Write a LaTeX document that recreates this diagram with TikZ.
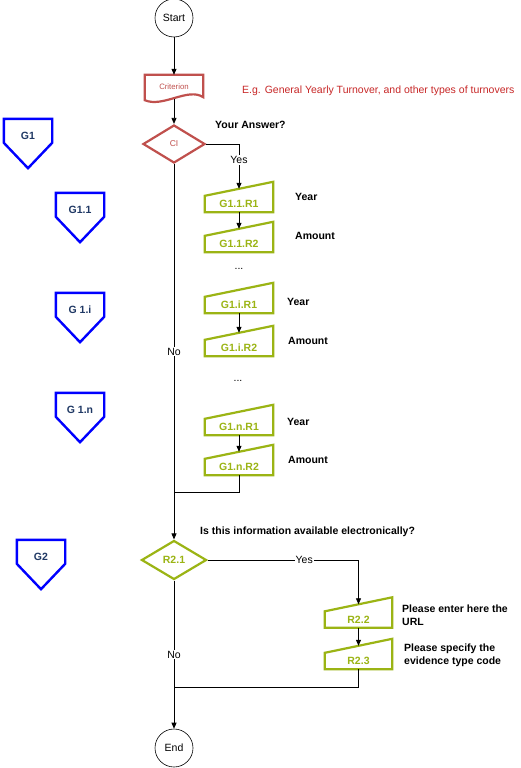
\documentclass[tikz,border=0pt]{standalone}
\usepackage{fontspec}
\setmainfont{Liberation Sans}
\usetikzlibrary{shapes.geometric,arrows.meta,calc}
\definecolor{redc}{RGB}{192,80,77}
\definecolor{rednote}{RGB}{200,40,40}
\definecolor{gcol}{RGB}{155,180,20}
\definecolor{navy}{RGB}{31,56,100}
\newcommand\mininput[5]{%
  \node[mibox, minimum width=#4] (#1) at (#2,#3) {};
  \draw[mistroke] ([yshift=-14pt]#1.north west) -- (#1.north east) -- (#1.south east) -- (#1.south west) -- cycle;
  \node[mitext] (#1t) at ([yshift=-7pt]#1.center) {#5};
}
\newcommand\pent[4]{%
  \node[pbox] (#1) at (#2,#3+24.5) {};
  \draw[pstroke] (#1.north west) -- (#1.north east) -- ([yshift=-24pt]#1.north east) -- (#1.south) -- ([yshift=-24pt]#1.north west) -- cycle;
  \node[ptext] (#1t) at ([yshift=-17pt]#1.north) {#4};
}
\begin{document}
\begin{tikzpicture}[x=1pt,y=-1pt,
  conn/.style={draw=black, line width=0.8pt},
  arr/.style={conn,-{Triangle[length=6pt,width=5pt]}},
  mibox/.style={rectangle, minimum height=30pt, inner sep=0pt, draw=none},
  mistroke/.style={draw=gcol, line width=2.2pt, line join=miter},
  mitext/.style={text=gcol, font=\fontsize{10.5}{12}\selectfont\bfseries, inner sep=0pt},
  pbox/.style={rectangle, minimum width=48pt, minimum height=49pt, inner sep=0pt, draw=none},
  pstroke/.style={draw=blue, line width=2.4pt, line join=miter},
  ptext/.style={text=navy, font=\fontsize{10.5}{12}\selectfont\bfseries, inner sep=0pt},
  term/.style={circle, draw=black, line width=0.6pt, minimum size=38pt, inner sep=0pt, font=\fontsize{10.5}{12}\selectfont},
  lbl/.style={font=\fontsize{10.5}{12}\selectfont\bfseries, inner sep=0pt, anchor=west},
  yn/.style={font=\fontsize{10.5}{12}\selectfont, fill=white, inner sep=1pt},
]
\useasboundingbox (0,0) rectangle (520,768);
\fill[white] (0,0) rectangle (520,768);

% terminals
\node[term] (startn) at (174,18) {Start};
\node[term] (endn) at (174,748) {End};

% criterion document shape
\node[rectangle, minimum width=58pt, minimum height=27pt, inner sep=0pt] (crit) at (174,88.5) {};
\draw[draw=redc, line width=2.2pt] (crit.north west) -- (crit.north east) -- ($(crit.south east)+(0,-5)$)
  .. controls (188,87) and (163,108) .. ($(crit.south west)+(0,-2)$) -- cycle;
\node[text=redc, font=\fontsize{7.8}{9}\selectfont, inner sep=0pt] (critt) at (174,87) {Criterion};
\node[text=rednote, font=\fontsize{10.5}{12}\selectfont, inner sep=0pt, anchor=west] (note) at (242,91) {E.g. General Yearly Turnover, and other types of turnovers};

% CI diamond
\node[diamond, draw=redc, line width=2.2pt, minimum width=62pt, minimum height=38pt, inner sep=0pt, text=redc, font=\fontsize{8.5}{10}\selectfont] (ci) at (174,144) {CI};
\node[lbl] (q1) at (215,125) {Your Answer?};

% pentagons
\pent{g1}{28}{119}{G1}
\pent{g11}{80}{193}{G1.1}
\pent{g1i}{80}{293}{G 1.i}
\pent{g1n}{80}{393}{G 1.n}
\pent{g2}{41}{540}{G2}

% manual inputs
\mininput{g11r1}{239}{197}{68pt}{G1.1.R1}
\mininput{g11r2}{239}{237}{68pt}{G1.1.R2}
\mininput{g1ir1}{239}{298}{68pt}{G1.i.R1}
\mininput{g1ir2}{239}{341}{68pt}{G1.i.R2}
\mininput{g1nr1}{239}{420}{68pt}{G1.n.R1}
\mininput{g1nr2}{239}{460}{68pt}{G1.n.R2}
\mininput{r22}{358.5}{612.5}{67pt}{R2.2}
\mininput{r23}{358.5}{654}{67pt}{R2.3}

\node[lbl] (y1) at (295,197) {Year};
\node[lbl] (a1) at (295,236) {Amount};
\node[lbl] (y2) at (287,302) {Year};
\node[lbl] (a2) at (288,341) {Amount};
\node[lbl] (y3) at (287,422) {Year};
\node[lbl] (a3) at (288,460) {Amount};
\node[font=\fontsize{10.5}{12}\selectfont, inner sep=0pt] (d1) at (239,269) {...};
\node[font=\fontsize{10.5}{12}\selectfont, inner sep=0pt] (d2) at (238,381) {...};

% R2.1
\node[diamond, draw=gcol, line width=2.2pt, minimum width=65pt, minimum height=39pt, inner sep=0pt, text=gcol, font=\fontsize{10.5}{12}\selectfont\bfseries] (r21) at (174,560) {R2.1};
\node[lbl] (q2) at (200,532) {Is this information available electronically?};
\node[lbl, align=left, font=\fontsize{10.5}{13}\selectfont\bfseries] (t22) at (402,615.5) {Please enter here the\\URL};
\node[lbl, align=left, font=\fontsize{10.5}{13}\selectfont\bfseries] (t23) at (404,655) {Please specify the\\evidence type code};

\coordinate (j1) at (174,492);
\coordinate (j2) at (174,687);

% connectors
\draw[arr] (startn) -- (crit.north);
\draw[arr] ([yshift=3pt]crit.south) -- (ci.north);
\draw[arr] (ci.east) -| node[yn, pos=0.68] {Yes} ([yshift=-7pt]g11r1.north);
\draw[arr] (g11r1.south) -- ([yshift=-7pt]g11r2.north);
\draw[arr] (g1ir1.south) -- ([yshift=-7pt]g1ir2.north);
\draw[arr] (g1nr1.south) -- ([yshift=-7pt]g1nr2.north);
\draw[conn] (g1nr2.south) |- (j1);
\draw[arr] (ci.south) -- node[yn, pos=0.5] {No} (r21.north);
\draw[arr] (r21.east) -| node[yn, pos=0.32] {Yes} ([yshift=-7pt]r22.north);
\draw[arr] (r22.south) -- ([yshift=-7pt]r23.north);
\draw[conn] (r23.south) |- (j2);
\draw[arr] (r21.south) -- node[yn, pos=0.5] {No} (endn.north);
\end{tikzpicture}
\end{document}
